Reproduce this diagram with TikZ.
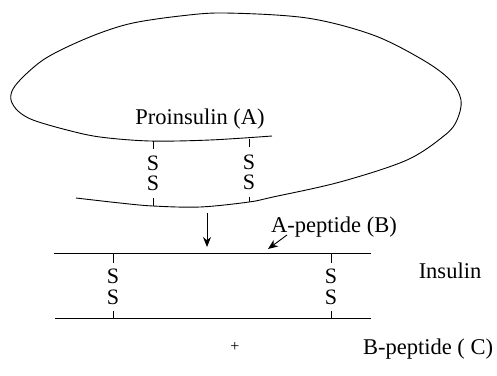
\documentclass[tikz,border=0pt]{standalone}
\usepackage{fontspec}
\setmainfont{Liberation Serif}
\usetikzlibrary{arrows.meta}

\begin{document}
\begin{tikzpicture}[x=1pt, y=-1pt, line width=0.9pt,
    lbl/.style={font=\fontsize{22.5}{22}\selectfont, inner sep=0pt},
    sspair/.style={font=\fontsize{22}{20}\selectfont, align=center, inner xsep=1pt, inner ysep=6.7pt},
    sslong/.style={font=\fontsize{22}{21}\selectfont, align=center, inner xsep=1pt, inner ysep=6pt},
    darr/.style={-{Stealth[length=10pt,width=8pt]}}]
  \useasboundingbox (0,0) rectangle (497,375);
  % 프로인슐린 사슬
  \draw plot[smooth, tension=0.55] coordinates {(272,136) (210,140) (150,141) (100,137)
    (67,130) (33,120) (18,111) (11,100) (13,89) (24,76) (43,60) (67,47) (100,33) (133,23)
    (180,16) (225,13) (307,18) (373,35) (423,60) (450,80) (461,100) (457,120) (445,135)
    (407,160) (340,182) (273,197) (249,202) (200,207) (153,206) (120,203) (76,198)};
  % 이황화 결합 (프로인슐린)
  \coordinate (pa1) at (153,141);
  \coordinate (pb1) at (153,206);
  \coordinate (pa2) at (249,139);
  \coordinate (pb2) at (249,202);
  \node (ss1) at (153,173.5) [sspair] {S\\S};
  \node (ss2) at (249,172) [sspair] {S\\S};
  \draw (pa1) -- (ss1.north);
  \draw (ss1.south) -- (pb1);
  \draw (pa2) -- (ss2.north);
  \draw (ss2.south) -- (pb2);
  \node (proins) at (200,124) [lbl, anchor=base] {Proinsulin (A)};
  % 화살표
  \coordinate (cut1) at (207,213);
  \coordinate (cut2) at (207,247);
  \draw[darr] (cut1) -- (cut2);
  % 인슐린
  \coordinate (ia1) at (54,253);
  \coordinate (ia2) at (371,253);
  \coordinate (ib1) at (55,318);
  \coordinate (ib2) at (371,318);
  \draw (ia1) -- (ia2);
  \draw (ib1) -- (ib2);
  \coordinate (ta1) at (113,253);
  \coordinate (tb1) at (113,318);
  \coordinate (ta2) at (331,253);
  \coordinate (tb2) at (331,318);
  \node (ss3) at (113,287) [sslong] {S\\S};
  \node (ss4) at (331,287) [sslong] {S\\S};
  \draw (ta1) -- (ss3.north);
  \draw (ss3.south) -- (tb1);
  \draw (ta2) -- (ss4.north);
  \draw (ss4.south) -- (tb2);
  % 참조 텍스트
  \node (apep) at (334,232) [lbl, anchor=base] {A-peptide (B)};
  \coordinate (ptail) at (287,235);
  \coordinate (ptip) at (268,249);
  \draw[darr] (ptail) -- (ptip);
  \node (ins) at (450,278) [lbl, anchor=base] {Insulin};
  \node (plus) at (235,347) [font=\fontsize{16}{16}\selectfont, inner sep=0pt] {+};
  \node (bpep) at (428,354) [lbl, anchor=base] {B-peptide ( C)};
\end{tikzpicture}
\end{document}
